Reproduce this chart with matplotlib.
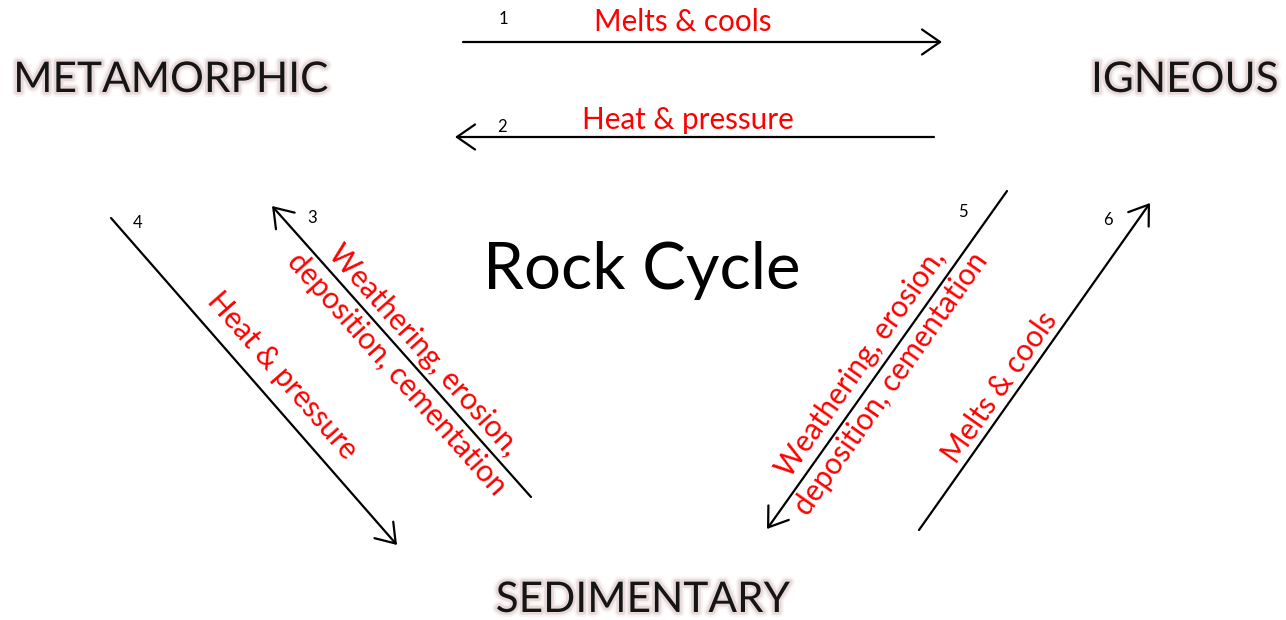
import matplotlib.pyplot as plt
from matplotlib.patches import FancyArrowPatch
import matplotlib.patheffects as pe

# rock types and where they sit (pixel coords of the 1286x620 canvas)
rock_types = ["METAMORPHIC", "IGNEOUS", "SEDIMENTARY"]
rock_pos = [(171, 80), (1185, 80), (643, 600)]

# arrows: start -> end (head at end)
step_numbers = ["1", "2", "3", "4", "5", "6"]
arrow_start = [(463, 42), (934, 137), (531, 497), (111, 218), (1007, 191), (919, 530)]
arrow_end = [(942, 42), (455, 137), (272, 206), (397, 545), (767, 529), (1150, 203)]
number_pos = [(503, 19), (502, 127), (312, 218), (138, 223), (963, 212), (1108, 220)]

process_labels = [
    "Melts & cools",
    "Heat & pressure",
    "Weathering, erosion,\ndeposition, cementation",
    "Heat & pressure",
    "Weathering, erosion,\ndeposition, cementation",
    "Melts & cools",
]
label_pos = [(683, 22), (688, 120), (410, 362), (282, 375), (876, 373), (1000, 387)]
label_rot = [0, 0, -48.3, -48.8, 54.8, 54.8]

title = "Rock Cycle"

plt.rcParams['font.family'] = ['Lato', 'DejaVu Sans']

fig = plt.figure(figsize=(12.86, 6.2), dpi=100)
ax = fig.add_axes([0, 0, 1, 1])
ax.set_xlim(0, 1286)
ax.set_ylim(620, 0)
ax.axis('off')

glow = [pe.Stroke(linewidth=7, foreground='#f8f2f2'),
        pe.Stroke(linewidth=4, foreground='#e8dada'),
        pe.Normal()]

for name, (x, y) in zip(rock_types, rock_pos):
    ax.text(x, y, name, fontsize=30.5, color='#151515', ha='center', va='center',
            path_effects=glow)

ax.text(642, 270, title, fontsize=47, color='black', ha='center', va='center')

for a, b in zip(arrow_start, arrow_end):
    arr = FancyArrowPatch(a, b, arrowstyle='->,head_length=1.3,head_width=0.9',
                          mutation_scale=10, lw=1.6, color='black',
                          shrinkA=0, shrinkB=0)
    ax.add_patch(arr)

for n, (x, y) in zip(step_numbers, number_pos):
    ax.text(x, y, n, fontsize=12, color='black', ha='center', va='center')

for lab, (x, y), r in zip(process_labels, label_pos, label_rot):
    ax.text(x, y, lab, fontsize=21.3, color='red', ha='center', va='center',
            rotation=r, rotation_mode='anchor', multialignment='center',
            linespacing=1.35)

fig.savefig('out.png', dpi=100)
